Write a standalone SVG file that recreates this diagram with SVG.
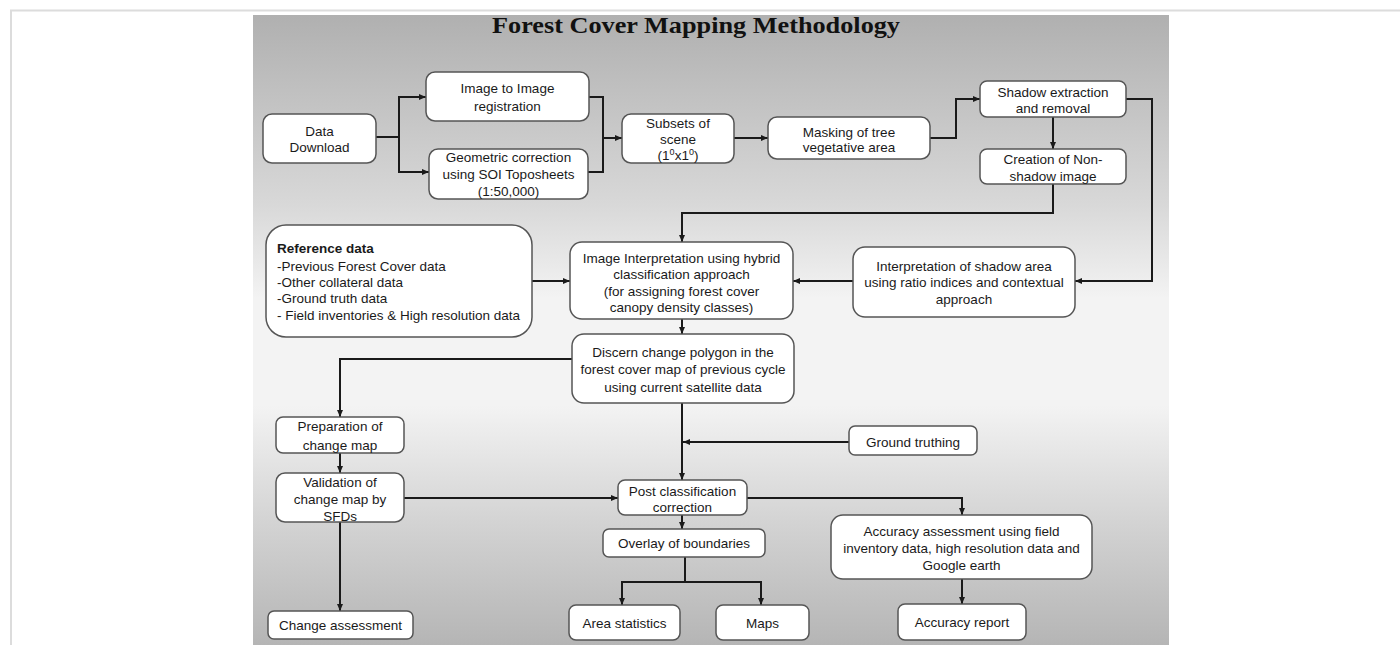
<svg xmlns="http://www.w3.org/2000/svg" width="1400" height="645" viewBox="0 0 1400 645">
<style>
.box{fill:#fff;stroke:#555;stroke-width:1.5}
.t{font-family:"Liberation Sans",Arial,sans-serif;font-size:13.5px;fill:#1a1a1a;text-anchor:middle}
.l{text-anchor:start}
.b{font-weight:bold}
.c{fill:none;stroke:#1a1a1a;stroke-width:2}
.title{font-family:"Liberation Serif","Times New Roman",serif;font-weight:bold;font-size:24px;fill:#111;text-anchor:middle}
</style>
<defs>
<linearGradient id="bg" x1="0" y1="0" x2="0" y2="1">
<stop offset="0" stop-color="#b0b0b0"/>
<stop offset="0.3" stop-color="#d8d8d8"/>
<stop offset="0.45" stop-color="#f3f3f3"/>
<stop offset="0.62" stop-color="#f3f3f3"/>
<stop offset="0.8" stop-color="#d4d4d4"/>
<stop offset="1" stop-color="#b5b5b5"/>
</linearGradient>
<marker id="a" markerWidth="7" markerHeight="6" refX="7" refY="3" orient="auto" markerUnits="userSpaceOnUse">
<path d="M0,0 L7,3 L0,6 Z" fill="#1a1a1a"/>
</marker>
</defs>
<rect width="1400" height="645" fill="#fff"/>
<path d="M11,645 V10.5 H1400" fill="none" stroke="#dcdcdc" stroke-width="2"/>
<rect x="253" y="15" width="916" height="630" fill="url(#bg)"/>
<text class="title" x="696" y="33" textLength="408" lengthAdjust="spacingAndGlyphs">Forest Cover Mapping Methodology</text>

<g id="connectors">
<path class="c" d="M376,137 H399 V97 H426" marker-end="url(#a)"/>
<path class="c" d="M399,137 V172 H429" marker-end="url(#a)"/>
<path class="c" d="M589,97 H603 V172 H588"/>
<path class="c" d="M603,138 H622" marker-end="url(#a)"/>
<path class="c" d="M734,138 H768" marker-end="url(#a)"/>
<path class="c" d="M930,138 H956 V99 H980" marker-end="url(#a)"/>
<path class="c" d="M1053,117 V149" marker-end="url(#a)"/>
<path class="c" d="M1126,99 H1152 V281 H1075" marker-end="url(#a)"/>
<path class="c" d="M1053,184 V213 H682 V242" marker-end="url(#a)"/>
<path class="c" d="M532,281 H570" marker-end="url(#a)"/>
<path class="c" d="M853,281 H793" marker-end="url(#a)"/>
<path class="c" d="M682,319 V334" marker-end="url(#a)"/>
<path class="c" d="M572,359 H340 V417" marker-end="url(#a)"/>
<path class="c" d="M682,403 V480" marker-end="url(#a)"/>
<path class="c" d="M849,442 H683" marker-end="url(#a)"/>
<path class="c" d="M340,453 V473" marker-end="url(#a)"/>
<path class="c" d="M404,498 H618" marker-end="url(#a)"/>
<path class="c" d="M340,522 V611" marker-end="url(#a)"/>
<path class="c" d="M682,515 V529" marker-end="url(#a)"/>
<path class="c" d="M685,557 V582 M622,582 H761"/>
<path class="c" d="M622,581 V605" marker-end="url(#a)"/>
<path class="c" d="M761,581 V605" marker-end="url(#a)"/>
<path class="c" d="M747,498 H962 V515" marker-end="url(#a)"/>
<path class="c" d="M962,579 V604" marker-end="url(#a)"/>
</g>

<g id="data-download"><rect class="box" x="263" y="114" width="113" height="49" rx="9"/>
<text class="t" x="319.5" y="136">Data</text><text class="t" x="319.5" y="152">Download</text></g>

<g id="image-registration"><rect class="box" x="426" y="72" width="163" height="49" rx="9"/>
<text class="t" x="507.5" y="93">Image to Image</text><text class="t" x="507.5" y="111">registration</text></g>

<g id="geometric-correction"><rect class="box" x="429" y="149" width="159" height="50" rx="9"/>
<text class="t" x="508.5" y="162">Geometric correction</text><text class="t" x="508.5" y="179">using SOI Toposheets</text><text class="t" x="508.5" y="196">(1:50,000)</text></g>

<g id="subsets"><rect class="box" x="622" y="114" width="112" height="49" rx="9"/>
<text class="t" x="678" y="128">Subsets of</text><text class="t" x="678" y="144">scene</text>
<text class="t" x="678" y="160">(1<tspan font-size="9" dy="-5">0</tspan><tspan dy="5">x1</tspan><tspan font-size="9" dy="-5">0</tspan><tspan dy="5">)</tspan></text></g>

<g id="masking"><rect class="box" x="768" y="117" width="162" height="42" rx="9"/>
<text class="t" x="849" y="137">Masking of tree</text><text class="t" x="849" y="152">vegetative area</text></g>

<g id="shadow-extraction"><rect class="box" x="980" y="81" width="146" height="36" rx="7"/>
<text class="t" x="1053" y="97">Shadow extraction</text><text class="t" x="1053" y="113">and removal</text></g>

<g id="non-shadow"><rect class="box" x="980" y="149" width="146" height="35" rx="7"/>
<text class="t" x="1053" y="164">Creation of Non-</text><text class="t" x="1053" y="181">shadow image</text></g>

<g id="reference-data"><rect class="box" x="266" y="225" width="266" height="112" rx="20"/>
<text class="t l b" x="277" y="253">Reference data</text>
<text class="t l" x="277" y="271">-Previous Forest Cover data</text>
<text class="t l" x="277" y="287">-Other collateral data</text>
<text class="t l" x="277" y="303">-Ground truth data</text>
<text class="t l" x="277" y="320">- Field inventories &amp; High resolution data</text></g>

<g id="image-interpretation"><rect class="box" x="570" y="242" width="223" height="77" rx="12"/>
<text class="t" x="681.5" y="263">Image Interpretation using hybrid</text>
<text class="t" x="681.5" y="279">classification approach</text>
<text class="t" x="681.5" y="296">(for assigning forest cover</text>
<text class="t" x="681.5" y="312">canopy density classes)</text></g>

<g id="shadow-interpretation"><rect class="box" x="853" y="247" width="222" height="70" rx="12"/>
<text class="t" x="964" y="271">Interpretation of shadow area</text>
<text class="t" x="964" y="287">using ratio indices and contextual</text>
<text class="t" x="964" y="304">approach</text></g>

<g id="discern-change"><rect class="box" x="572" y="334" width="222" height="69" rx="12"/>
<text class="t" x="683" y="357">Discern change polygon in the</text>
<text class="t" x="683" y="374">forest cover map of previous cycle</text>
<text class="t" x="683" y="392">using current satellite data</text></g>

<g id="preparation"><rect class="box" x="276" y="417" width="128" height="36" rx="7"/>
<text class="t" x="340" y="431">Preparation of</text><text class="t" x="340" y="450">change map</text></g>

<g id="validation"><rect class="box" x="276" y="473" width="128" height="49" rx="9"/>
<text class="t" x="340" y="487">Validation of</text><text class="t" x="340" y="504">change map by</text><text class="t" x="340" y="521">SFDs</text></g>

<g id="change-assessment"><rect class="box" x="268" y="611" width="145" height="28" rx="6"/>
<text class="t" x="340.5" y="630">Change assessment</text></g>

<g id="ground-truthing"><rect class="box" x="849" y="426" width="128" height="29" rx="6"/>
<text class="t" x="913" y="447">Ground truthing</text></g>

<g id="post-classification"><rect class="box" x="618" y="480" width="129" height="35" rx="7"/>
<text class="t" x="682.5" y="496">Post classification</text><text class="t" x="682.5" y="512">correction</text></g>

<g id="overlay"><rect class="box" x="603" y="529" width="162" height="28" rx="6"/>
<text class="t" x="684" y="548">Overlay of boundaries</text></g>

<g id="area-statistics"><rect class="box" x="569" y="605" width="111" height="35" rx="7"/>
<text class="t" x="624.5" y="628">Area statistics</text></g>

<g id="maps"><rect class="box" x="716" y="605" width="93" height="35" rx="7"/>
<text class="t" x="762.5" y="628">Maps</text></g>

<g id="accuracy-assessment"><rect class="box" x="831" y="515" width="261" height="64" rx="12"/>
<text class="t" x="961.5" y="536">Accuracy assessment using field</text>
<text class="t" x="961.5" y="553">inventory data, high resolution data and</text>
<text class="t" x="961.5" y="570">Google earth</text></g>

<g id="accuracy-report"><rect class="box" x="898" y="604" width="128" height="36" rx="7"/>
<text class="t" x="962" y="627">Accuracy report</text></g>
</svg>
